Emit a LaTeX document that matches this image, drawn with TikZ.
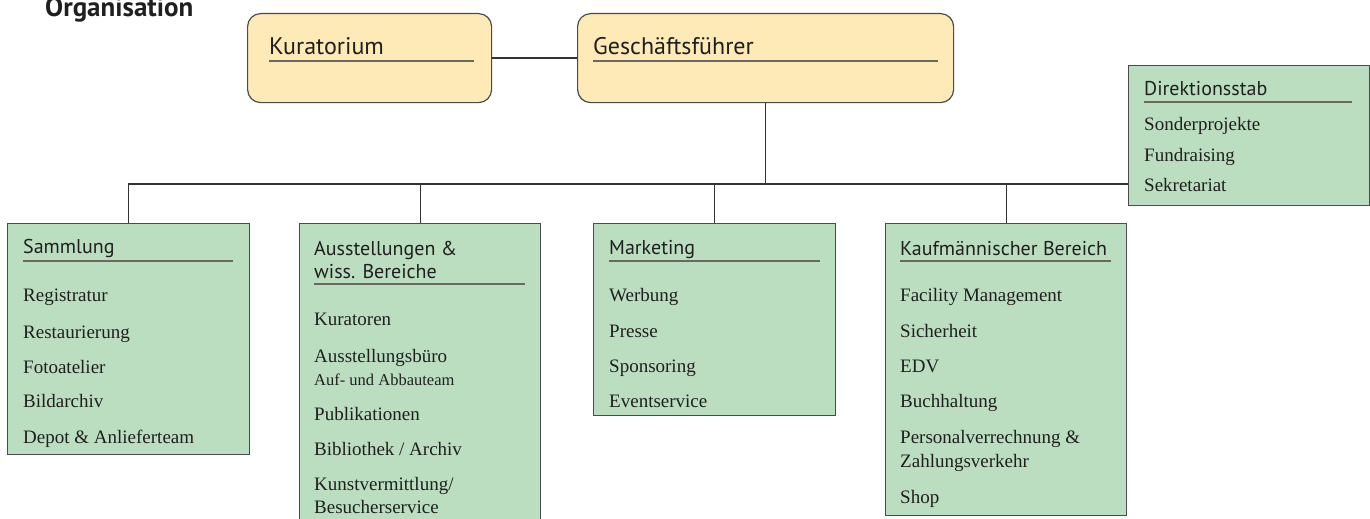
\documentclass[tikz,border=0pt]{standalone}
\usepackage{fontspec}
\setmainfont{Liberation Serif}
\newfontfamily\headfont{PT Sans}
\usetikzlibrary{positioning}
\definecolor{boxgreen}{RGB}{188,222,192}
\definecolor{boxyellow}{RGB}{253,234,183}
\definecolor{edgegray}{RGB}{75,75,75}
\definecolor{ulgray}{RGB}{105,105,95}
\tikzset{
  greenbox/.style={draw=edgegray, line width=1.2pt, fill=boxgreen, anchor=north west, inner sep=0pt},
  yellowbox/.style={draw=edgegray, line width=1.2pt, fill=boxyellow, rounded corners=13pt, anchor=north west, inner sep=0pt},
  head/.style={anchor=base west, inner sep=0pt, text=black!88, font=\headfont\fontsize{20}{22}\selectfont},
  bighead/.style={head, font=\headfont\fontsize{24}{26}\selectfont},
  item/.style={anchor=base west, inner sep=0pt, text=black!88, font=\fontsize{19}{22}\selectfont},
  smallitem/.style={item, font=\fontsize{16.5}{19}\selectfont},
  underl/.style={ulgray, line width=1.3pt},
  conn/.style={black!80, line width=1.2pt}
}

\begin{document}
\begin{tikzpicture}[x=1pt, y=-1pt]
	\useasboundingbox (0,0) rectangle (1370,519);
	\clip (0,0) rectangle (1370,519);
	\node[anchor=base west, inner sep=0pt, text=black!88, font=\headfont\bfseries\fontsize{27}{29}\selectfont] (title) at (45,17) {Organisation};
%
	% top level
	\node[yellowbox, minimum width=244pt, minimum height=89pt] (kurat) at (247,13) {};
	\node[bighead] (kurat-head) at (269,55) {Kuratorium};
	\draw[underl] (269,61) -- (474,61);
	\node[yellowbox, minimum width=376pt, minimum height=89pt] (gf) at (577,13) {};
	\node[bighead] (gf-head) at (593,55) {Geschäftsführer};
	\draw[underl] (593,61) -- (938,61);
	\draw[conn] (kurat.east) -- (gf.west);
%
	% stab
	\node[greenbox, minimum width=241pt, minimum height=140pt] (dirstab) at (1128,65) {};
	\node[head] (dirstab-head) at (1144,95) {Direktionsstab};
	\draw[underl] (1144,102) -- (1352,102);
	\foreach \txt/\yy [count=\i] in {Sonderprojekte/130, Fundraising/161, Sekretariat/191}
		\node[item] (dirstab\i) at (1144,\yy) {\txt};
%
	% departments
	\node[greenbox, minimum width=242pt, minimum height=231pt] (samm) at (7,223) {};
	\node[head] (samm-head) at (23,253) {Sammlung};
	\draw[underl] (23,261) -- (233,261);
	\foreach \txt/\yy [count=\i] in {Registratur/301, Restaurierung/338, Fotoatelier/373, Bildarchiv/407, Depot \& Anlieferteam/443}
		\node[item] (samm\i) at (23,\yy) {\txt};
%
	\node[greenbox, minimum width=241pt, minimum height=320pt] (ausst) at (299,223) {};
	\node[head] (ausst-head) at (314,255) {Ausstellungen \&};
	\node[head] (ausst-head2) at (314,278) {wiss. Bereiche};
	\draw[underl] (314,284) -- (525,284);
	\foreach \txt/\yy [count=\i] in {Kuratoren/325, Ausstellungsbüro/362, Publikationen/420, {Bibliothek / Archiv}/455, {Kunstvermittlung/}/490, Besucherservice/513}
		\node[item] (ausst\i) at (314,\yy) {\txt};
	\node[smallitem] (ausst-team) at (314,385) {Auf- und Abbauteam};
%
	\node[greenbox, minimum width=242pt, minimum height=192pt] (mark) at (593,223) {};
	\node[head] (mark-head) at (609,254) {Marketing};
	\draw[underl] (609,261) -- (820,261);
	\foreach \txt/\yy [count=\i] in {Werbung/301, Presse/337, Sponsoring/372, Eventservice/407}
		\node[item] (mark\i) at (609,\yy) {\txt};
%
	\node[greenbox, minimum width=241pt, minimum height=292pt] (kaufm) at (885,223) {};
	\node[head] (kaufm-head) at (900,255) {Kaufmännischer Bereich};
	\draw[underl] (900,261) -- (1111,261);
	\foreach \txt/\yy [count=\i] in {Facility Management/301, Sicherheit/337, EDV/372, Buchhaltung/407, Personalverrechnung \&/443, Zahlungsverkehr/467, Shop/503}
		\node[item] (kaufm\i) at (900,\yy) {\txt};
%
	% connectors
	\coordinate (bus) at (128,184);
	\draw[conn] (bus) -- (bus -| dirstab.west);
	\draw[conn] (gf.south) -- (gf.south |- bus);
	\foreach \dep in {samm, ausst, mark, kaufm}
		\draw[conn] (\dep.north) -- (\dep.north |- bus);
\end{tikzpicture}
\end{document}
